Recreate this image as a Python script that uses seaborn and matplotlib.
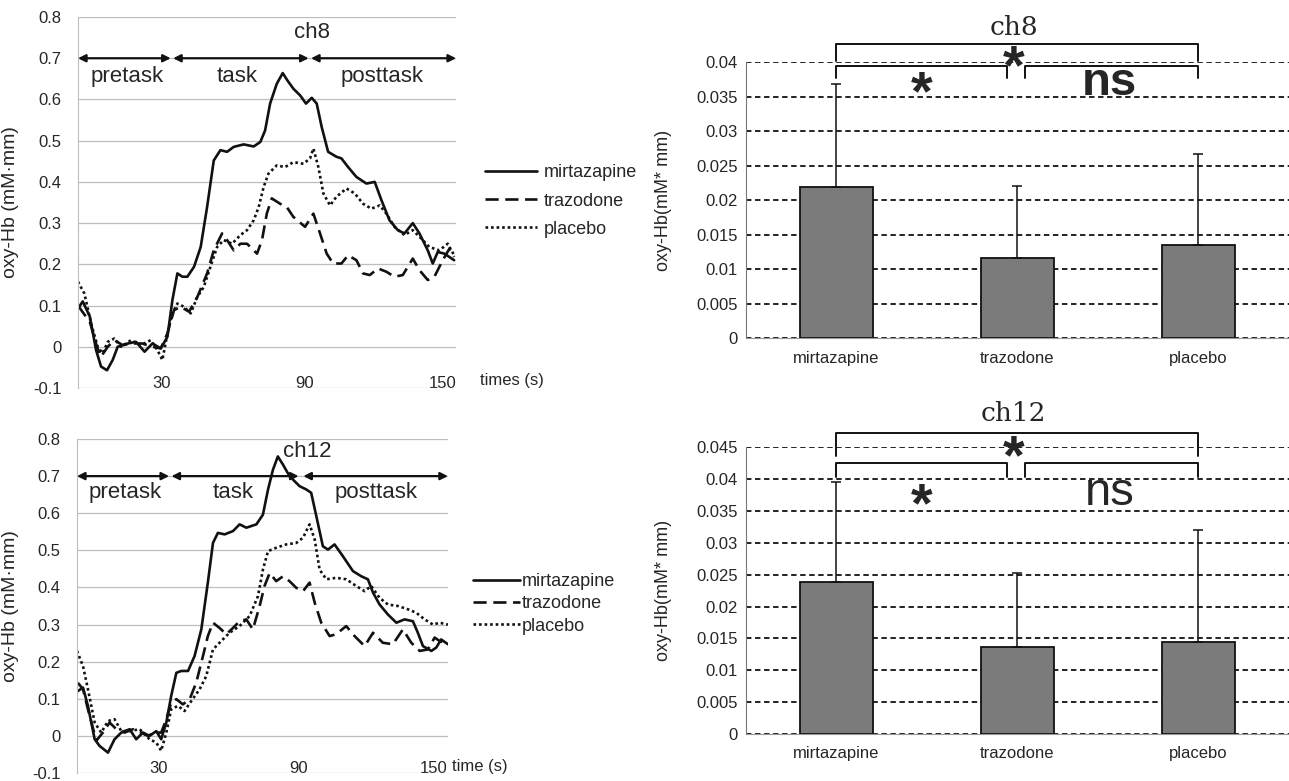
import numpy as np
import pandas as pd
import seaborn as sns
import matplotlib.pyplot as plt

sns.set_style('white')
plt.rcParams['font.family'] = ['Liberation Sans', 'DejaVu Sans']

groups = ['mirtazapine', 'trazodone', 'placebo']

# ---- ch8 time course (s, mM*mm)
t8_mir = [-9, -7, -4, -1.4, 0.7, 3.2, 5.6, 7.7, 12, 15.4, 19, 22.3, 25.8, 28.6, 30.7, 32.8, 34.9, 37, 39.8,
          42.6, 45.3, 48.1, 50.9, 53.7, 56.5, 60.7, 64.9, 67.7, 69.7, 71.8, 74.6, 77.1, 79.1, 81.6, 84.4,
          86.9, 89.3, 91.4, 93.5, 96.2, 99.7, 101.8, 104.6, 108.1, 112.3, 115.8, 118.6, 122, 125.5, 128.3,
          131.8, 134.6, 138.1, 140.2, 142.3, 145.1, 149.2]
v8_mir = [0.093, 0.11, 0.073, -0.008, -0.048, -0.057, -0.032, 0.0, 0.008, 0.012, -0.012, 0.008, -0.004, 0.024,
          0.113, 0.178, 0.17, 0.17, 0.194, 0.242, 0.339, 0.452, 0.477, 0.473, 0.485, 0.491, 0.486, 0.497,
          0.525, 0.59, 0.638, 0.664, 0.646, 0.626, 0.61, 0.59, 0.604, 0.59, 0.533, 0.473, 0.461, 0.457,
          0.436, 0.412, 0.396, 0.4, 0.356, 0.307, 0.283, 0.275, 0.3, 0.275, 0.234, 0.202, 0.23, 0.226, 0.21]
t8_tra = [-9, -4, -1, 0.7, 3.5, 6.3, 9.8, 14, 18, 22.3, 25.8, 28.6, 31.4, 34.2, 37.7, 41.2, 45.3, 48.1, 51.6,
          53.7, 56.5, 59.3, 62.1, 66.3, 68.4, 70.4, 72.5, 76, 78.8, 81.6, 86.5, 90, 92.8, 95.6, 98.3, 101.8,
          104.6, 108.1, 110.9, 113.7, 117.2, 120.7, 124.1, 127.6, 131.8, 134.6, 138.1, 140.9, 144.4, 147.2,
          149.2]
v8_tra = [0.1, 0.06, 0.0, -0.024, 0.0, 0.016, 0.004, 0.008, 0.008, 0.0, -0.004, 0.032, 0.089, 0.097, 0.085,
          0.121, 0.178, 0.234, 0.275, 0.259, 0.234, 0.25, 0.25, 0.226, 0.259, 0.323, 0.36, 0.347, 0.339,
          0.315, 0.291, 0.323, 0.275, 0.226, 0.202, 0.202, 0.222, 0.21, 0.178, 0.174, 0.19, 0.182, 0.17,
          0.174, 0.214, 0.186, 0.162, 0.17, 0.21, 0.238, 0.218]
t8_pla = [-9, -6.3, -3.5, -0.7, 1.4, 3.5, 6.3, 9.1, 13.3, 17.4, 21.6, 24.4, 26.5, 28.6, 30.7, 32.8, 35.6,
          38.4, 41.2, 43.9, 46.7, 49.5, 52.3, 55.8, 59.3, 62.1, 64.9, 67, 69.1, 71.1, 74.6, 78.1, 81.6, 85.8,
          88.6, 90, 92.1, 94.2, 97, 99.7, 103.9, 107.4, 110.9, 114.4, 117.9, 120.7, 124.1, 128.3, 131.8,
          135.3, 138.8, 143, 146.5, 149.2]
v8_pla = [0.158, 0.129, 0.057, 0.0, -0.016, 0.012, 0.02, 0.0, 0.016, 0.004, 0.016, -0.008, -0.032, 0.032,
          0.081, 0.105, 0.097, 0.081, 0.121, 0.145, 0.194, 0.242, 0.259, 0.25, 0.271, 0.283, 0.307, 0.339,
          0.388, 0.42, 0.44, 0.436, 0.448, 0.444, 0.457, 0.481, 0.436, 0.372, 0.343, 0.364, 0.384, 0.372,
          0.347, 0.335, 0.343, 0.323, 0.291, 0.271, 0.283, 0.263, 0.242, 0.234, 0.25, 0.222]

# ---- ch12 time course
t12_mir = [-8.6, -6.4, -4.3, -1.4, 0.7, 4.3, 7.1, 10, 13.6, 16.4, 19.3, 22.1, 25, 27.1, 29.3, 31.4, 33.6,
           35.7, 38.6, 41.4, 44.3, 47.1, 49.3, 51.4, 54.3, 57.9, 60.7, 63.6, 67.9, 70.7, 72.9, 75, 77.1,
           79.3, 82.1, 86.4, 89.3, 91.4, 93.6, 96.4, 98.6, 101.4, 105, 109.3, 112.9, 115.7, 117.9, 120.7,
           124.3, 127.9, 131.4, 135, 137.1, 139.3, 142.9, 145, 147.1, 150]
v12_mir = [0.121, 0.13, 0.081, -0.009, -0.027, -0.045, -0.009, 0.009, 0.018, -0.009, 0.009, 0.0, 0.013,
           -0.009, 0.036, 0.108, 0.17, 0.175, 0.175, 0.215, 0.287, 0.413, 0.52, 0.547, 0.543, 0.552, 0.57,
           0.561, 0.57, 0.596, 0.664, 0.717, 0.753, 0.731, 0.7, 0.673, 0.664, 0.655, 0.592, 0.511, 0.502,
           0.516, 0.484, 0.444, 0.43, 0.422, 0.386, 0.354, 0.327, 0.305, 0.314, 0.309, 0.278, 0.242, 0.229,
           0.238, 0.26, 0.247]
t12_tra = [-8.6, -6.4, -4.3, -0.7, 2.1, 5, 7.9, 11.4, 15, 18.6, 21.4, 24.3, 27.1, 29.3, 31.4, 33.6, 36.4,
           39.3, 42.1, 45, 47.1, 49.3, 52.1, 55, 57.9, 60.7, 63.6, 66.4, 69.3, 71.4, 73.6, 76.4, 79.3, 82.1,
           85, 87.9, 90.7, 92.9, 95.7, 99.3, 102.1, 106.4, 110, 114.3, 117.9, 122.1, 126.4, 130.7, 134.3,
           137.9, 141.4, 144.3, 146.4, 150]
v12_tra = [0.143, 0.126, 0.072, -0.013, 0.009, 0.036, 0.018, 0.009, 0.018, 0.009, 0.0, 0.009, 0.009, 0.045,
           0.09, 0.099, 0.085, 0.099, 0.143, 0.215, 0.269, 0.305, 0.291, 0.274, 0.291, 0.309, 0.314, 0.287,
           0.35, 0.404, 0.439, 0.417, 0.43, 0.417, 0.399, 0.39, 0.413, 0.359, 0.305, 0.269, 0.274, 0.296,
           0.269, 0.242, 0.278, 0.251, 0.247, 0.287, 0.251, 0.229, 0.233, 0.265, 0.256, 0.247]
t12_pla = [-9, -6.4, -4.3, -1.4, 1.4, 4.3, 7.1, 10, 13.6, 17.9, 22.1, 25, 27.1, 29.3, 31.4, 34.3, 37.1, 40,
           43.6, 46.4, 49.3, 52.1, 56.4, 60.7, 65, 68.6, 70.7, 72.9, 76.4, 80.7, 85, 87.9, 90.7, 92.9, 95,
           97.9, 102.1, 106.4, 110.7, 114.3, 117.1, 120.7, 124.3, 128.6, 132.9, 136.4, 140, 143.6, 146.4, 150]
v12_pla = [0.229, 0.188, 0.126, 0.036, 0.009, 0.04, 0.045, 0.013, 0.013, 0.018, -0.009, -0.018, -0.04, 0.009,
           0.072, 0.081, 0.067, 0.094, 0.126, 0.161, 0.233, 0.251, 0.278, 0.296, 0.323, 0.377, 0.448, 0.498,
           0.507, 0.516, 0.52, 0.534, 0.57, 0.529, 0.448, 0.422, 0.426, 0.422, 0.404, 0.39, 0.404, 0.372,
           0.354, 0.35, 0.341, 0.332, 0.314, 0.3, 0.305, 0.3]

# ---- bar means and SD
bar8_mean = [0.0219, 0.0116, 0.0135]
bar8_sd = [0.0149, 0.0104, 0.0132]
bar12_mean = [0.0239, 0.0137, 0.0145]
bar12_sd = [0.0156, 0.0116, 0.0175]

line_styles = ['-', (0, (5, 2.5)), (0, (1, 1.1))]

fig = plt.figure(figsize=(12.89, 7.81), dpi=100)


def draw_course(ax, ts, vs, ch, ch_y, arrows, legend_x, legend_y, legend_gap, hlen, hpad):
    for t, v, ls, lab in zip(ts, vs, line_styles, groups):
        sns.lineplot(x=t, y=v, ax=ax, color='#111111', linewidth=1.9, linestyle=ls, sort=False,
                     estimator=None, label=lab, legend=False)
    ax.set_xlim(-9, 150)
    ax.set_ylim(-0.1, 0.8)
    ax.set_xlabel('')
    ax.set_ylabel('oxy-Hb (mM·mm)', fontsize=14)
    ax.yaxis.set_label_coords(-0.155, 0.5)
    ax.set_yticks(np.arange(-0.1, 0.81, 0.1))
    ax.set_yticklabels(['-0.1', '0', '0.1', '0.2', '0.3', '0.4', '0.5', '0.6', '0.7', '0.8'], fontsize=12)
    ax.set_xticks([30, 90, 150])
    ax.set_xticklabels(['30', '90', '150'], fontsize=12, ha='right')
    ax.tick_params(axis='y', length=0, pad=12)
    ax.tick_params(axis='x', length=0, pad=-9)
    ax.yaxis.grid(True, color='#bdbdbd', linewidth=0.9)
    for s in ['top', 'right', 'bottom']:
        ax.spines[s].set_visible(False)
    ax.spines['left'].set_color('#bdbdbd')
    for a, b in arrows:
        ax.annotate('', xy=(b, 0.7), xytext=(a, 0.7),
                    arrowprops=dict(arrowstyle='<|-|>', color='#111111', lw=1.6, shrinkA=0, shrinkB=0,
                                    mutation_scale=11), annotation_clip=False)
    ax.text(11.8, 0.655, 'pretask', ha='center', va='center', fontsize=16)
    ax.text(58, 0.655, 'task', ha='center', va='center', fontsize=16)
    ax.text(119, 0.655, 'posttask', ha='center', va='center', fontsize=16)
    ax.text(89.5, ch_y, ch, ha='center', va='center', fontsize=16)
    fig.legend(handles=ax.get_lines()[:3], labels=groups, loc='center left',
               bbox_to_anchor=(legend_x, legend_y), bbox_transform=fig.transFigure, frameon=False,
               fontsize=13, handlelength=hlen, handletextpad=hpad, labelspacing=legend_gap,
               borderpad=0, borderaxespad=0)


def bracket(ax, x0, x1, y, drop):
    ax.plot([x0, x0, x1, x1], [y - drop, y, y, y - drop], color='#111111', lw=1.4, clip_on=False)


def draw_bars(ax, means, sd, ymax, title, title_y, top_y, drop1, low_y, drop2,
              mid_star_y, star_y, ns_y, ns_bold):
    df = pd.DataFrame({'group': groups, 'mean': means})
    sns.barplot(data=df, x='group', y='mean', ax=ax, color='#7b7b7b', saturation=1, width=0.4,
                edgecolor='#111111', linewidth=1.3, errorbar=None)
    ax.errorbar(range(3), means, yerr=[[0, 0, 0], sd], fmt='none', ecolor='#111111', elinewidth=1.1,
                capsize=3.5, capthick=1.1)
    ax.set_xlim(-0.5, 2.5)
    ax.set_ylim(0, ymax + 0.00005)
    ticks = np.arange(0, ymax + 0.0001, 0.005)
    ax.set_yticks(ticks)
    ax.set_yticklabels(['0'] + [('%.3f' % v).rstrip('0') for v in ticks[1:]], fontsize=12)
    ax.set_xticks(range(3))
    ax.set_xticklabels(groups, fontsize=12)
    ax.tick_params(axis='both', length=0)
    ax.tick_params(axis='y', pad=6)
    ax.tick_params(axis='x', pad=9)
    ax.set_xlabel('')
    ax.set_ylabel('oxy-Hb(mM* mm)', fontsize=13)
    ax.yaxis.set_label_coords(-0.137, 0.5)
    ax.yaxis.grid(True, color='#111111', linestyle=(0, (3, 2)), linewidth=1.3)
    ax.set_axisbelow(True)
    for s in ['top', 'right']:
        ax.spines[s].set_visible(False)
    ax.spines['left'].set_color('#777777')
    ax.spines['bottom'].set_color('#999999')
    # significance marks
    bracket(ax, 0, 2, top_y, drop1)
    bracket(ax, 0, 0.94, low_y, drop2)
    bracket(ax, 1.04, 2, low_y, drop2)
    ax.text(0.98, mid_star_y, '*', ha='center', va='baseline', fontsize=40, fontweight='bold')
    ax.text(0.47, star_y, '*', ha='center', va='baseline', fontsize=40, fontweight='bold')
    ax.text(1.51, ns_y, 'ns', ha='center', va='baseline', fontsize=34,
            fontweight='bold' if ns_bold else 'normal')
    ax.text(0.98, title_y, title, ha='center', va='center', fontsize=19, family='DejaVu Serif')


ax1 = fig.add_axes([0.0605, 0.5032, 0.2933, 0.475])
draw_course(ax1, [t8_mir, t8_tra, t8_pla], [v8_mir, v8_tra, v8_pla], 'ch8', 0.763,
            [(-9, 30), (31, 88), (89, 150)], 485 / 1289, 1 - 201 / 781, 0.62, 2.9, 0.35)
fig.text(480 / 1289, 1 - 381 / 781, 'times (s)', fontsize=12, va='center')

ax2 = fig.add_axes([0.0597, 0.0102, 0.2878, 0.4277])
draw_course(ax2, [t12_mir, t12_tra, t12_pla], [v12_mir, v12_tra, v12_pla], 'ch12', 0.767,
            [(-9, 30.5), (31.5, 86), (88, 150)], 473 / 1289, 1 - 604 / 781, 0.28, 2.6, 0.12)
fig.text(452 / 1289, 1 - 766 / 781, 'time (s)', fontsize=12, va='center')

ax3 = fig.add_axes([0.5787, 0.5672, 0.4213, 0.3534])
draw_bars(ax3, bar8_mean, bar8_sd, 0.04, 'ch8', 0.0450, 0.0426, 0.0024, 0.0394, 0.0016,
          0.0370, 0.0332, 0.0352, True)

ax4 = fig.add_axes([0.5787, 0.0602, 0.4213, 0.3675])
draw_bars(ax4, bar12_mean, bar12_sd, 0.045, 'ch12', 0.0503, 0.0472, 0.0036, 0.0426, 0.0023,
          0.0410, 0.0334, 0.0360, False)

fig.savefig('out.png', dpi=100)
